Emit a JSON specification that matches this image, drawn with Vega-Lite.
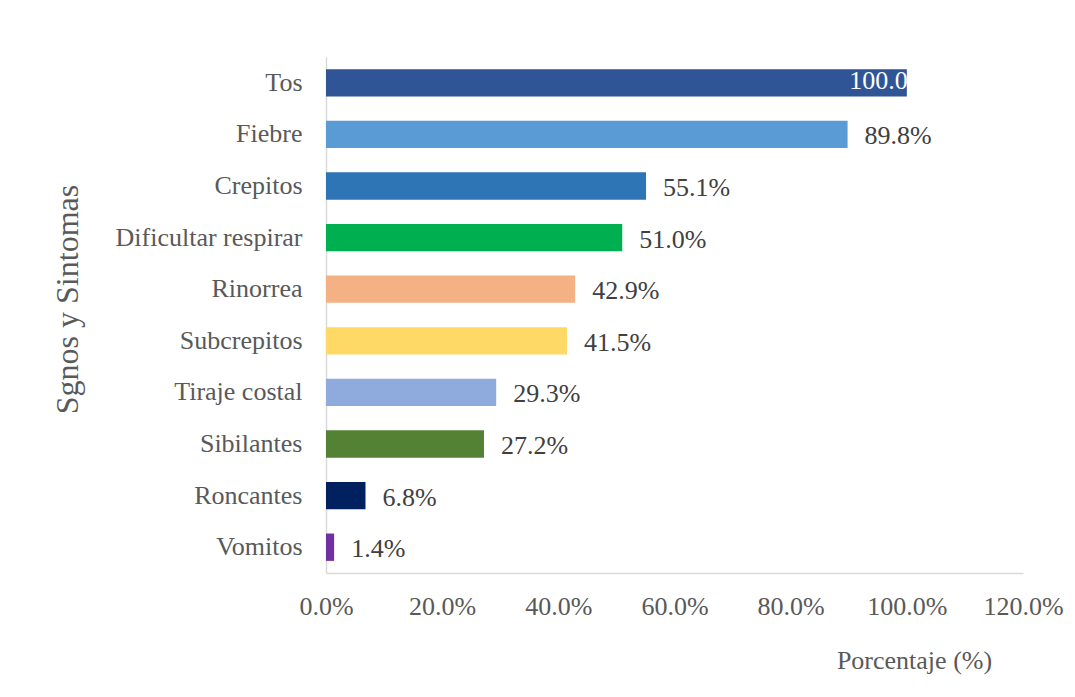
{
  "$schema": "https://vega.github.io/schema/vega-lite/v6.json",
  "autosize": {"type": "none"},
  "width": 697,
  "height": 516,
  "padding": {"left": 326, "top": 57, "right": 52, "bottom": 124},
  "background": "white",
  "config": {
    "view": {"stroke": null},
    "font": "Liberation Serif"
  },
  "data": {
    "values": [
      {"sintoma": "Tos", "pct": 100.0, "label": "100.0", "inside": true},
      {"sintoma": "Fiebre", "pct": 89.8, "label": "89.8%", "inside": false},
      {"sintoma": "Crepitos", "pct": 55.1, "label": "55.1%", "inside": false},
      {"sintoma": "Dificultar respirar", "pct": 51.0, "label": "51.0%", "inside": false},
      {"sintoma": "Rinorrea", "pct": 42.9, "label": "42.9%", "inside": false},
      {"sintoma": "Subcrepitos", "pct": 41.5, "label": "41.5%", "inside": false},
      {"sintoma": "Tiraje costal", "pct": 29.3, "label": "29.3%", "inside": false},
      {"sintoma": "Sibilantes", "pct": 27.2, "label": "27.2%", "inside": false},
      {"sintoma": "Roncantes", "pct": 6.8, "label": "6.8%", "inside": false},
      {"sintoma": "Vomitos", "pct": 1.4, "label": "1.4%", "inside": false}
    ]
  },
  "encoding": {
    "y": {
      "field": "sintoma",
      "type": "nominal",
      "sort": null,
      "scale": {"paddingInner": 0.47, "paddingOuter": 0.235},
      "axis": {
        "title": "Sgnos y Sintomas",
        "titleFont": "Liberation Serif",
        "titleFontSize": 32,
        "titleFontWeight": "normal",
        "titleColor": "#595959",
        "titleAngle": -90,
        "titleX": -259,
        "titleY": 242,
        "titleAlign": "center",
        "titleBaseline": "middle",
        "labelFont": "Liberation Serif",
        "labelFontSize": 26,
        "labelColor": "#595959",
        "labelPadding": 24,
        "labelLimit": 320,
        "ticks": false,
        "domainColor": "#d9d9d9",
        "domainWidth": 1.5
      }
    },
    "x": {
      "field": "pct",
      "type": "quantitative",
      "scale": {"domain": [0, 120], "nice": false},
      "axis": {
        "title": "Porcentaje (%)",
        "titleFont": "Liberation Serif",
        "titleFontSize": 26,
        "titleFontWeight": "normal",
        "titleColor": "#595959",
        "titleX": 588,
        "titleY": 87,
        "titleAlign": "center",
        "titleBaseline": "middle",
        "values": [0, 20, 40, 60, 80, 100, 120],
        "labelExpr": "format(datum.value, '.1f') + '%'",
        "labelFont": "Liberation Serif",
        "labelFontSize": 26,
        "labelColor": "#595959",
        "labelPadding": 20,
        "labelFlush": false,
        "labelOverlap": false,
        "ticks": false,
        "grid": false,
        "domainColor": "#d9d9d9",
        "domainWidth": 1.5
      }
    }
  },
  "layer": [
    {
      "mark": {"type": "bar"},
      "encoding": {
        "color": {
          "field": "sintoma",
          "type": "nominal",
          "legend": null,
          "scale": {
            "domain": ["Tos", "Fiebre", "Crepitos", "Dificultar respirar", "Rinorrea", "Subcrepitos", "Tiraje costal", "Sibilantes", "Roncantes", "Vomitos"],
            "range": ["#2F5597", "#5B9BD5", "#2E75B6", "#00B050", "#F4B183", "#FFD966", "#8FAADC", "#548235", "#002060", "#7030A0"]
          }
        }
      }
    },
    {
      "transform": [{"filter": "!datum.inside"}],
      "mark": {"type": "text", "align": "left", "baseline": "middle", "dx": 17, "dy": 2, "fontSize": 26, "color": "#404040", "font": "Liberation Serif"},
      "encoding": {"text": {"field": "label"}}
    },
    {
      "transform": [{"filter": "datum.inside"}],
      "mark": {"type": "text", "align": "right", "baseline": "middle", "dx": 1, "dy": -2, "fontSize": 26, "color": "white", "font": "Liberation Serif"},
      "encoding": {"text": {"field": "label"}}
    }
  ]
}
